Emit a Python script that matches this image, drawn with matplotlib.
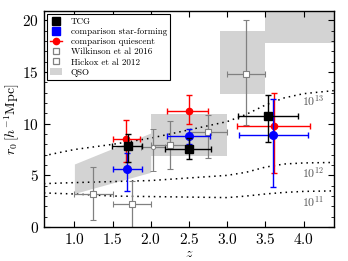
import matplotlib
matplotlib.use("Agg")
import matplotlib.pyplot as plt
from matplotlib.lines import Line2D
from matplotlib.patches import Patch
import numpy as np

plt.rcParams['font.family'] = ['cmr10', 'DejaVu Serif']
plt.rcParams['mathtext.fontset'] = 'cm'
plt.rcParams['axes.formatter.use_mathtext'] = True
plt.rcParams['axes.unicode_minus'] = False

# ---------------- data ----------------
# TCG
tcg_z = [1.70, 2.50, 3.54]
tcg_r = [7.8, 7.57, 10.7]
tcg_r_lo = [1.5, 1.0, 2.5]
tcg_r_hi = [1.2, 1.0, 2.1]
tcg_z_lo = [0.21, 0.32, 0.40]
tcg_z_hi = [0.18, 0.29, 0.39]

# comparison star-forming
sf_z = [1.69, 2.50, 3.60]
sf_r = [5.64, 8.8, 8.94]
sf_r_lo = [2.15, 0.8, 5.04]
sf_r_hi = [1.5, 0.7, 3.46]
sf_z_lo = [0.18, 0.29, 0.45]
sf_z_hi = [0.19, 0.28, 0.46]

# comparison quiescent
q_z = [1.68, 2.50, 3.61]
q_r = [8.53, 11.25, 9.8]
q_r_lo = [2.2, 1.25, 4.6]
q_r_hi = [1.83, 1.5, 3.2]
q_z_lo = [0.18, 0.29, 0.48]
q_z_hi = [0.18, 0.25, 0.48]

# Wilkinson et al 2016
w_z = [1.25, 1.75, 2.25, 2.75, 3.25]
w_r = [3.2, 2.2, 7.95, 9.2, 14.8]
w_r_lo = [2.5, 2.6, 2.35, 2.5, 4.9]
w_r_hi = [2.6, 2.25, 2.35, 1.6, 5.2]
w_z_err = [0.25, 0.25, 0.25, 0.25, 0.25]

# Hickox et al 2012
h_z = [2.03]
h_r = [7.7]
h_r_lo = [2.3]
h_r_hi = [1.8]
h_z_err = [0.16]

# QSO regions
qso_band_z = [1.0, 2.0]
qso_band_lo = [3.25, 5.3]
qso_band_hi = [6.1, 9.1]
qso_box_z0 = [2.0, 2.9, 3.5]
qso_box_z1 = [3.0, 3.5, 4.5]
qso_box_lo = [6.9, 12.85, 17.8]
qso_box_hi = [10.9, 18.95, 25.0]

# halo-mass curves
halo_z = [0.6, 1.0, 1.5, 2.0, 2.5, 3.0, 3.25, 3.5, 3.75, 4.0, 4.4]
halo_13 = [6.9, 7.5, 8.0, 8.6, 9.4, 10.2, 10.9, 11.8, 12.5, 12.9, 13.2]
halo_12 = [4.2, 4.3, 4.4, 4.5, 4.75, 5.0, 5.3, 5.8, 6.1, 6.2, 6.25]
halo_11 = [3.3, 3.2, 3.0, 2.95, 2.9, 2.85, 3.0, 3.2, 3.35, 3.45, 3.5]
halo_labels = [r'$10^{13}$', r'$10^{12}$', r'$10^{11}$']
halo_label_z = [4.12, 4.12, 4.12]
halo_label_r = [12.2, 5.3, 2.5]

x_ticks = [1.0, 1.5, 2.0, 2.5, 3.0, 3.5, 4.0]
y_ticks = [0, 5, 10, 15, 20]

# ---------------- plot ----------------
fig = plt.figure(figsize=(3.48, 2.61), dpi=100)
ax = fig.add_axes([0.126, 0.130, 0.834, 0.828])

qso_col = '#d3d3d3'
ax.fill_between(qso_band_z, qso_band_lo, qso_band_hi, color=qso_col, lw=0, zorder=0)
for z0, z1, lo, hi in zip(qso_box_z0, qso_box_z1, qso_box_lo, qso_box_hi):
    ax.fill_between([z0, z1], [lo, lo], [hi, hi], color=qso_col, lw=0, zorder=0)

dot = (0, (1, 2.6))
for curve in (halo_13, halo_12, halo_11):
    ax.plot(halo_z, curve, color='black', ls=dot, lw=1.1, zorder=1)
for lab, zz, rr in zip(halo_labels, halo_label_z, halo_label_r):
    ax.text(zz, rr, lab, color='#555555', fontsize=8.5, ha='center', va='center', zorder=1)

grey = '#808080'
ax.errorbar(w_z, w_r, yerr=[w_r_lo, w_r_hi], xerr=w_z_err, fmt='s', color=grey,
            mfc='white', mec=grey, ms=3.8, mew=0.8, elinewidth=0.9, capsize=2.5,
            capthick=0.9, zorder=2)
ax.errorbar(h_z, h_r, yerr=[h_r_lo, h_r_hi], xerr=h_z_err, fmt='o', color=grey,
            mfc='white', mec=grey, ms=3.0, mew=0.7, elinewidth=0.9, capsize=2.5,
            capthick=0.9, zorder=2)
ax.errorbar(q_z, q_r, yerr=[q_r_lo, q_r_hi], xerr=[q_z_lo, q_z_hi], fmt='o', color='red',
            ms=4.5, elinewidth=1.0, capsize=2.5, capthick=1.0, zorder=3)
ax.errorbar(sf_z, sf_r, yerr=[sf_r_lo, sf_r_hi], xerr=[sf_z_lo, sf_z_hi], fmt='o', color='blue',
            ms=5.5, elinewidth=1.0, capsize=2.5, capthick=1.0, zorder=4)
ax.errorbar(tcg_z, tcg_r, yerr=[tcg_r_lo, tcg_r_hi], xerr=[tcg_z_lo, tcg_z_hi], fmt='s', color='black',
            ms=5.5, elinewidth=1.0, capsize=2.5, capthick=1.0, zorder=5)

ax.set_xlim(0.6, 4.4)
ax.set_ylim(0, 20.9)
ax.set_xticks(x_ticks)
ax.set_xticklabels([f'${v:.1f}$' for v in x_ticks])
ax.set_yticks(y_ticks)
ax.set_yticklabels([f'${v}$' for v in y_ticks])
ax.set_yticks(np.arange(0, 21, 1), minor=True)
ax.tick_params(which='both', direction='in', top=True, right=True, labelsize=11)
ax.tick_params(which='major', length=4, width=0.8)
ax.tick_params(which='minor', length=2.2, width=0.6)
ax.tick_params(axis='x', which='minor', top=False, bottom=False)
for s in ax.spines.values():
    s.set_linewidth(1.0)

ax.set_xlabel(r'$z$', fontsize=10, labelpad=1)
ax.set_ylabel(r'$r_0\,[h^{-1}{\rm Mpc}]$', fontsize=10, labelpad=0)

handles = [
    Line2D([], [], ls='none', marker='s', color='black', ms=6),
    Line2D([], [], ls='none', marker='s', color='blue', ms=6),
    Line2D([], [], ls='-', marker='o', color='red', ms=4.5, lw=1.0),
    Line2D([], [], ls='none', marker='s', mfc='white', mec=grey, ms=5, mew=0.9),
    Line2D([], [], ls='none', marker='s', mfc='white', mec=grey, ms=5, mew=0.9),
    Patch(facecolor=qso_col, edgecolor='none'),
]
labels = ['TCG', 'comparison star-forming', 'comparison quiescent',
          'Wilkinson et al 2016', 'Hickox et al 2012', 'QSO']
leg = ax.legend(handles, labels, loc='upper left', fontsize=6.5, frameon=True,
                fancybox=False, edgecolor='black', framealpha=1,
                handlelength=1.3, handletextpad=1.0, labelspacing=0.2,
                borderpad=0.35, borderaxespad=0.35)
leg.get_frame().set_linewidth(0.8)

fig.savefig('out.png', dpi=100)
